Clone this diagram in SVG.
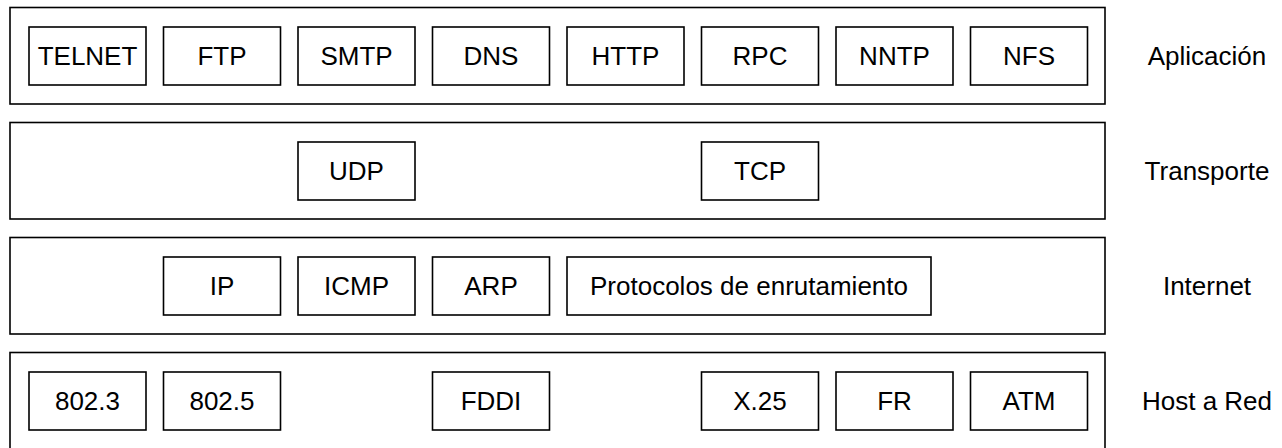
<svg xmlns="http://www.w3.org/2000/svg" width="1282" height="448" viewBox="0 0 1282 448">
<style>
.layer{fill:#fff;stroke:#000;stroke-width:1.6}
.box{fill:#fff;stroke:#000;stroke-width:1.6}
text{font-family:"Liberation Sans",Arial,sans-serif;font-size:26px;fill:#000;text-anchor:middle}
</style>
<rect width="1282" height="448" fill="#fff"/>
<g id="layer-aplicacion">
<rect class="layer" x="10" y="7.5" width="1095" height="96.5"/>
<text x="1207" y="65">Aplicación</text>
</g>
<g id="layer-transporte">
<rect class="layer" x="10" y="122.5" width="1095" height="96.5"/>
<text x="1207" y="180">Transporte</text>
</g>
<g id="layer-internet">
<rect class="layer" x="10" y="237.5" width="1095" height="96.5"/>
<text x="1207" y="295">Internet</text>
</g>
<g id="layer-host">
<rect class="layer" x="10" y="352.5" width="1095" height="97"/>
<text x="1207" y="410">Host a Red</text>
</g>
<g id="telnet"><rect class="box" x="29" y="27" width="117" height="58"/><text x="87.5" y="65">TELNET</text></g>
<g id="ftp"><rect class="box" x="163.5" y="27" width="117" height="58"/><text x="222" y="65">FTP</text></g>
<g id="smtp"><rect class="box" x="298" y="27" width="117" height="58"/><text x="356.5" y="65">SMTP</text></g>
<g id="dns"><rect class="box" x="432.5" y="27" width="117" height="58"/><text x="491" y="65">DNS</text></g>
<g id="http"><rect class="box" x="567" y="27" width="117" height="58"/><text x="625.5" y="65">HTTP</text></g>
<g id="rpc"><rect class="box" x="701.5" y="27" width="117" height="58"/><text x="760" y="65">RPC</text></g>
<g id="nntp"><rect class="box" x="836" y="27" width="117" height="58"/><text x="894.5" y="65">NNTP</text></g>
<g id="nfs"><rect class="box" x="970.5" y="27" width="117" height="58"/><text x="1029" y="65">NFS</text></g>
<g id="udp"><rect class="box" x="298" y="142" width="117" height="58"/><text x="356.5" y="180">UDP</text></g>
<g id="tcp"><rect class="box" x="701.5" y="142" width="117" height="58"/><text x="760" y="180">TCP</text></g>
<g id="ip"><rect class="box" x="163.5" y="257" width="117" height="58"/><text x="222" y="295">IP</text></g>
<g id="icmp"><rect class="box" x="298" y="257" width="117" height="58"/><text x="356.5" y="295">ICMP</text></g>
<g id="arp"><rect class="box" x="432.5" y="257" width="117" height="58"/><text x="491" y="295">ARP</text></g>
<g id="routing"><rect class="box" x="567" y="257" width="364" height="58"/><text x="749" y="295">Protocolos de enrutamiento</text></g>
<g id="ieee8023"><rect class="box" x="29" y="372" width="117" height="58"/><text x="87.5" y="410">802.3</text></g>
<g id="ieee8025"><rect class="box" x="163.5" y="372" width="117" height="58"/><text x="222" y="410">802.5</text></g>
<g id="fddi"><rect class="box" x="432.5" y="372" width="117" height="58"/><text x="491" y="410">FDDI</text></g>
<g id="x25"><rect class="box" x="701.5" y="372" width="117" height="58"/><text x="760" y="410">X.25</text></g>
<g id="fr"><rect class="box" x="836" y="372" width="117" height="58"/><text x="894.5" y="410">FR</text></g>
<g id="atm"><rect class="box" x="970.5" y="372" width="117" height="58"/><text x="1029" y="410">ATM</text></g>
<g id="connectors"></g>
</svg>
